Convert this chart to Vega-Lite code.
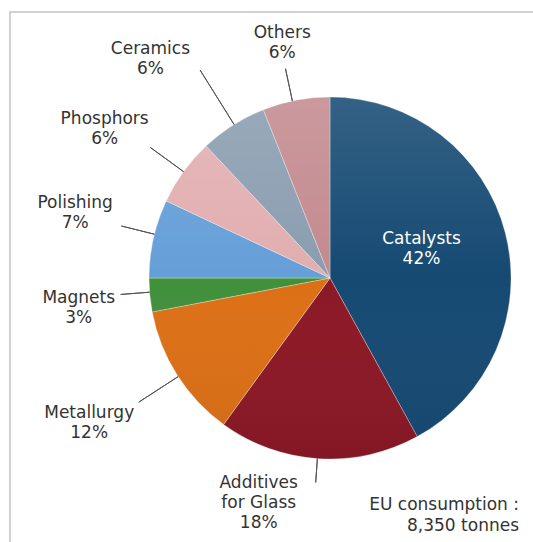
{
  "$schema": "https://vega.github.io/schema/vega-lite/v6.json",
  "width": 640,
  "height": 532,
  "autosize": {"type": "none"},
  "padding": {"left": 10, "top": 12, "right": 0, "bottom": 0},
  "background": "white",
  "view": {"stroke": "#c4c4c4", "strokeWidth": 1.5},
  "config": {"view": {"stroke": "#c4c4c4", "strokeWidth": 1.5}, "font": "DejaVu Sans"},
  "data": {
    "values": [
      {"order": 0, "category": "Catalysts", "value": 42, "label": "Catalysts\n42%"},
      {"order": 1, "category": "Additives for Glass", "value": 18, "label": "Additives\nfor Glass\n18%"},
      {"order": 2, "category": "Metallurgy", "value": 12, "label": "Metallurgy\n12%"},
      {"order": 3, "category": "Magnets", "value": 3, "label": "Magnets\n3%"},
      {"order": 4, "category": "Polishing", "value": 7, "label": "Polishing\n7%"},
      {"order": 5, "category": "Phosphors", "value": 6, "label": "Phosphors\n6%"},
      {"order": 6, "category": "Ceramics", "value": 6, "label": "Ceramics\n6%"},
      {"order": 7, "category": "Others", "value": 6, "label": "Others\n6%"}
    ]
  },
  "layer": [
    {
      "mark": {"type": "arc", "radius": 181, "stroke": "#ffffff", "strokeWidth": 0.6, "strokeOpacity": 0.5},
      "encoding": {
        "theta": {"field": "value", "type": "quantitative", "stack": true},
        "order": {"field": "order", "type": "quantitative"},
        "color": {
          "field": "category",
          "type": "nominal",
          "legend": null,
          "scale": {
            "domain": ["Catalysts", "Additives for Glass", "Metallurgy", "Magnets", "Polishing", "Phosphors", "Ceramics", "Others"],
            "range": ["#164a73", "#8c1826", "#dc7016", "#41903c", "#659fd8", "#e2aeb0", "#8a9db0", "#c38a8f"]
          }
        }
      }
    },
    {
      "data": {"values": [{"k": 1}]},
      "mark": {
        "type": "arc",
        "radius": 181,
        "theta": 0,
        "theta2": 6.2832,
        "fill": {
          "gradient": "linear",
          "x1": 0, "y1": 0, "x2": 0, "y2": 1,
          "stops": [
            {"offset": 0, "color": "rgba(255,255,255,0.13)"},
            {"offset": 0.5, "color": "rgba(255,255,255,0)"},
            {"offset": 1, "color": "rgba(0,0,0,0.06)"}
          ]
        }
      },
      "encoding": {}
    },
    {
      "mark": {
        "type": "arc",
        "filled": false,
        "stroke": "#555555",
        "strokeWidth": 1,
        "theta": {"expr": "[0,3.2114,4.1364,4.6339,4.9567,5.3407,5.7247,6.0737][datum.order]"},
        "theta2": {"expr": "[0,3.2114,4.1364,4.6339,4.9567,5.3407,5.7247,6.0737][datum.order]"},
        "radius": {"expr": "[181,205,228,210,215,222,245,214][datum.order]"},
        "radius2": 181
      },
      "encoding": {}
    },
    {
      "mark": {
        "type": "text",
        "fontSize": 17,
        "lineHeight": 20,
        "lineBreak": "\n",
        "dy": {"expr": "datum.order === 1 ? -20 : -10"},
        "radius": {"expr": "[96,236,281,253,263,270,283,240][datum.order]"},
        "thetaOffset": {"expr": "[-0.056,0.244,0.024,-0.024,0.030,-0.045,-0.122,-0.012][datum.order]"}
      },
      "encoding": {
        "theta": {"field": "value", "type": "quantitative", "stack": true},
        "order": {"field": "order", "type": "quantitative"},
        "text": {"field": "label"},
        "color": {"condition": {"test": "datum.order === 0", "value": "#ffffff"}, "value": "#333333"}
      }
    },
    {
      "data": {"values": [{"k": 1}]},
      "mark": {"type": "text", "align": "right", "fontSize": 17, "lineHeight": 21, "dy": -10, "theta": 2.468, "radius": 303, "color": "#333333"},
      "encoding": {"text": {"value": ["EU consumption :", "8,350 tonnes"]}}
    }
  ]
}
